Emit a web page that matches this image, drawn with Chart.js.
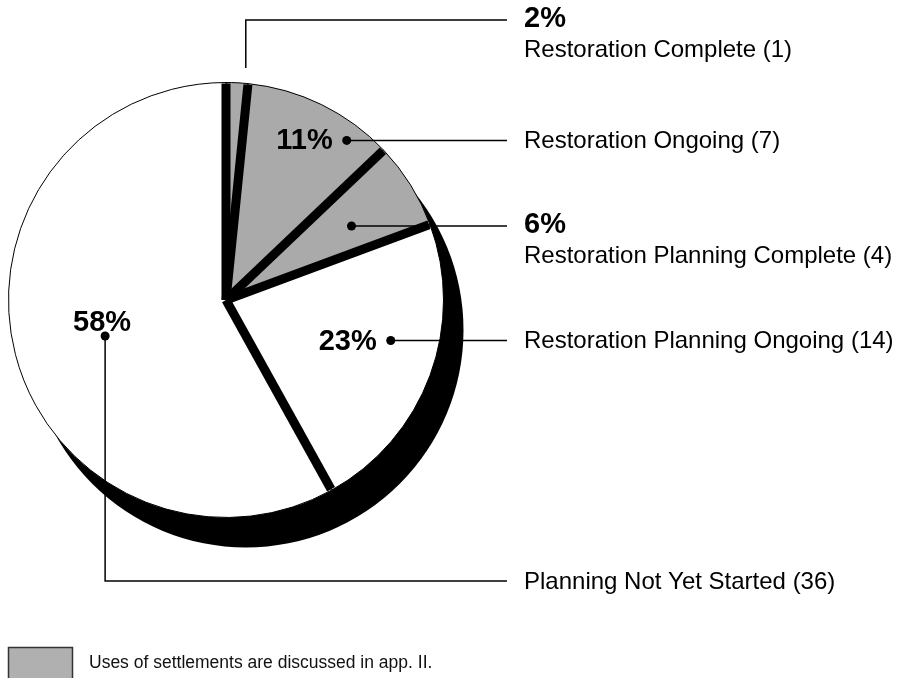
<!DOCTYPE html>
<html>
<head>
<meta charset="utf-8">
<script src="https://cdn.jsdelivr.net/npm/chart.js@4.4.0/dist/chart.umd.min.js"></script>
<style>
  html, body { margin: 0; padding: 0; background: #fff; }
  #wrap { position: relative; width: 907px; height: 678px; }
</style>
</head>
<body>
<div id="wrap"><canvas id="chart" width="907" height="678"></canvas></div>
<script>
// data
const categories = ['Restoration Complete', 'Restoration Ongoing', 'Restoration Planning Complete', 'Restoration Planning Ongoing', 'Planning Not Yet Started'];
const counts = [1, 7, 4, 14, 36];
const sliceColors = ['#aaaaaa', '#aaaaaa', '#aaaaaa', '#ffffff', '#ffffff'];
const noteText = 'Uses of settlements are discussed in app. II.';

// where each callout sits (fraction along slice, fraction of radius)
const callouts = [
    {t: 0.84, r: 1.07, pctRight: true, route: 'up', topY: 20, dot: false},
    {t: 0.77, r: 0.92},
    {t: 0.56, r: 0.67, pctRight: true},
    {t: 0.42, r: 0.78},
    {t: 0.49, r: 0.58, route: 'down', bottomY: 581, pctAbove: true}
];
const lineEndX = 507;
const labelX = 524;
const FONT = '"Liberation Sans", Arial, Helvetica, sans-serif';

const shadowPlugin = {
    id: 'shadow',
    beforeDatasetsDraw(chart) {
        const arc = chart.getDatasetMeta(0).data[0];
        const ctx = chart.ctx;
        ctx.save();
        ctx.fillStyle = '#000';
        ctx.beginPath();
        ctx.arc(arc.x + 20, arc.y + 30, arc.outerRadius, 0, Math.PI * 2);
        ctx.fill();
        ctx.restore();
    }
};

const separatorPlugin = {
    id: 'separators',
    afterDatasetsDraw(chart) {
        const ctx = chart.ctx;
        ctx.save();
        ctx.strokeStyle = '#000';
        ctx.lineWidth = 9;
        chart.getDatasetMeta(0).data.forEach(arc => {
            const a = arc.startAngle;
            ctx.beginPath();
            ctx.moveTo(arc.x, arc.y);
            ctx.lineTo(arc.x + Math.cos(a) * (arc.outerRadius - 1), arc.y + Math.sin(a) * (arc.outerRadius - 1));
            ctx.stroke();
        });
        ctx.restore();
    }
};

const calloutPlugin = {
    id: 'callouts',
    afterDraw(chart) {
        const ctx = chart.ctx;
        const total = counts.reduce((s, v) => s + v, 0);
        ctx.save();
        ctx.strokeStyle = '#000';
        ctx.fillStyle = '#000';
        ctx.lineWidth = 1.5;
        chart.getDatasetMeta(0).data.forEach((arc, i) => {
            const c = callouts[i];
            const a = arc.startAngle + c.t * (arc.endAngle - arc.startAngle);
            const px = arc.x + Math.cos(a) * arc.outerRadius * c.r;
            const py = arc.y + Math.sin(a) * arc.outerRadius * c.r;
            const pct = Math.round(counts[i] / total * 100) + '%';
            const name = categories[i] + ' (' + counts[i] + ')';

            let ly = py;
            ctx.beginPath();
            ctx.moveTo(px, py);
            if (c.route === 'up') {
                ly = c.topY;
                ctx.lineTo(px, ly);
            } else if (c.route === 'down') {
                ly = c.bottomY;
                ctx.lineTo(px, ly);
            }
            ctx.lineTo(lineEndX, ly);
            ctx.stroke();

            if (c.dot !== false) {
                ctx.beginPath();
                ctx.arc(px, py, 4.5, 0, Math.PI * 2);
                ctx.fill();
            }

            ctx.textAlign = 'left';
            ctx.textBaseline = 'middle';
            if (c.pctRight) {
                ctx.font = 'bold 29px ' + FONT;
                ctx.fillText(pct, labelX, ly - 1);
                ctx.font = '24px ' + FONT;
                ctx.fillText(name, labelX, ly + 30);
            } else {
                ctx.font = '24px ' + FONT;
                ctx.fillText(name, labelX, ly + 1);
                ctx.font = 'bold 29px ' + FONT;
                if (c.pctAbove) {
                    ctx.textAlign = 'center';
                    ctx.textBaseline = 'alphabetic';
                    ctx.fillText(pct, px - 3, py - 5);
                } else {
                    ctx.textAlign = 'right';
                    ctx.fillText(pct, px - 14, py + 1);
                }
            }
        });

        // note box
        ctx.fillStyle = '#b0b0b0';
        ctx.fillRect(8, 647, 65, 40);
        ctx.strokeStyle = '#333';
        ctx.lineWidth = 1.5;
        ctx.strokeRect(8.5, 647.5, 64, 40);
        ctx.fillStyle = '#111';
        ctx.font = '17.5px ' + FONT;
        ctx.textAlign = 'left';
        ctx.textBaseline = 'middle';
        ctx.fillText(noteText, 89, 663);
        ctx.restore();
    }
};

new Chart(document.getElementById('chart'), {
    type: 'pie',
    data: {
        labels: categories,
        datasets: [{
            data: counts,
            backgroundColor: sliceColors,
            borderColor: '#000',
            borderWidth: 1
        }]
    },
    options: {
        responsive: false,
        animation: false,
        layout: {padding: {left: 8, top: 82, right: 463, bottom: 160}},
        plugins: {legend: {display: false}, tooltip: {enabled: false}}
    },
    plugins: [shadowPlugin, separatorPlugin, calloutPlugin]
});
</script>
</body>
</html>
